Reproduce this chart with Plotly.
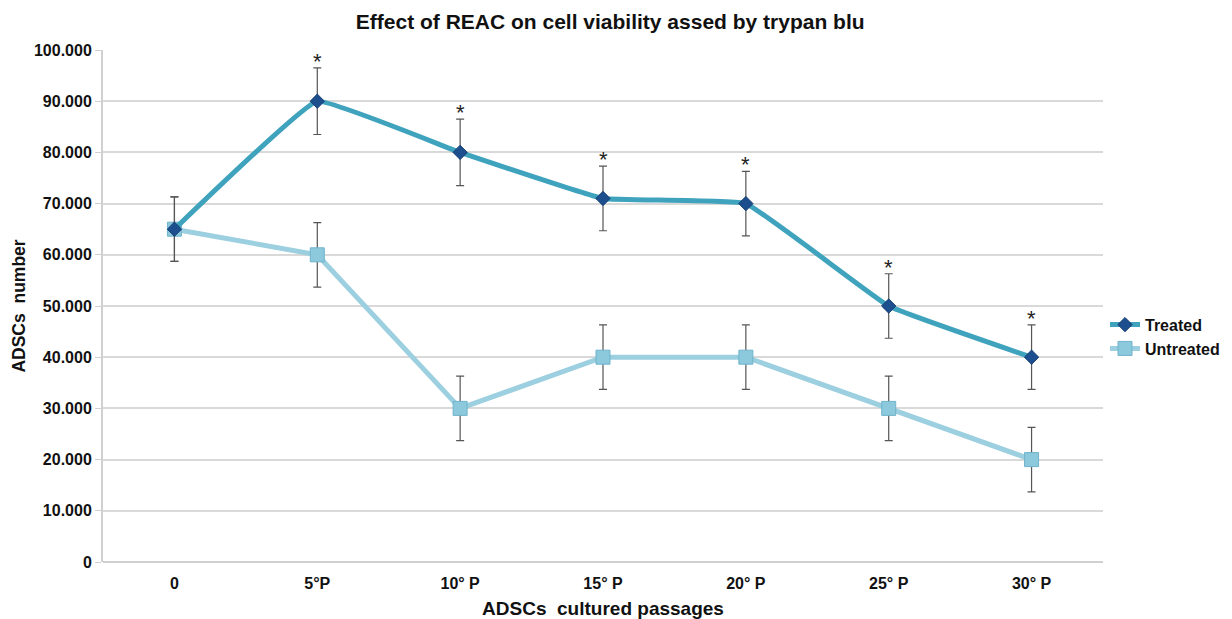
import plotly.graph_objects as go

categories = ["0", "5°P", "10° P", "15° P", "20° P", "25° P", "30° P"]
treated = [65000, 90000, 80000, 71000, 70000, 50000, 40000]
untreated = [65000, 60000, 30000, 40000, 40000, 30000, 20000]
treated_err = [6300, 6500, 6500, 6300, 6300, 6300, 6300]
untreated_err = [6300, 6300, 6300, 6300, 6300, 6300, 6300]
significant = [False, True, True, True, True, True, True]
y_ticks = [0, 10000, 20000, 30000, 40000, 50000, 60000, 70000, 80000, 90000, 100000]

W, H = 1224, 611

fig = go.Figure()

fig.add_trace(go.Scatter(
    x=categories, y=untreated, name="Untreated", mode="lines+markers",
    line=dict(color="#9CCFDF", width=5),
    marker=dict(symbol="square", size=14, color="#8CC9DC",
                line=dict(color="#6FB3CB", width=1)),
    error_y=dict(type="data", array=untreated_err, visible=True,
                 color="#555555", thickness=1.2, width=4),
))

fig.add_trace(go.Scatter(
    x=categories, y=treated, name="Treated", mode="lines+markers",
    line=dict(color="#3FA3BD", width=5, shape="spline", smoothing=0.25),
    marker=dict(symbol="diamond", size=11, color="#1D4F8F",
                line=dict(color="#163E73", width=1)),
    error_y=dict(type="data", array=treated_err, visible=True,
                 color="#555555", thickness=1.2, width=4),
))

for c, v, e, s in zip(categories, treated, treated_err, significant):
    if s:
        fig.add_annotation(x=c, y=v + e, text="*", showarrow=False,
                           yanchor="bottom", yshift=-8,
                           font=dict(size=22, color="#222222", family="Liberation Sans"))

fig.update_layout(
    width=W, height=H,
    paper_bgcolor="white", plot_bgcolor="white",
    margin=dict(l=95, r=129, t=42, b=57, autoexpand=False),
    separators=",.",
    title=dict(text="<b>Effect of REAC on cell viability assed by trypan blu</b>",
               x=0.492, xanchor="center", y=0.977, yanchor="middle",
               font=dict(size=21, color="#111111", family="Liberation Sans")),
    font=dict(family="Liberation Sans", color="#111111"),
    showlegend=True,
    legend=dict(x=1.002, y=0.44, xanchor="left", yanchor="middle",
                traceorder="reversed",
                font=dict(size=16, color="#111111", family="Liberation Sans", weight="bold"),
                itemwidth=30, tracegroupgap=0),
    xaxis=dict(
        type="category", range=[-0.5, 6.5], automargin=False,
        showgrid=False, showline=False, ticks="",
        ticklabelstandoff=10,
        tickfont=dict(size=16, family="Liberation Sans", weight="bold", color="#111111"),
        title=dict(text="<b>ADSCs&nbsp; cultured passages</b>", standoff=16,
                   font=dict(size=19, family="Liberation Sans", color="#111111")),
    ),
    yaxis=dict(
        range=[0, 100000], tickvals=y_ticks, tickformat=",.0f", automargin=False,
        showgrid=True, gridcolor="#D9D9D9", gridwidth=1.5,
        showline=True, linecolor="#D0D0D0", linewidth=2,
        ticks="outside", ticklen=6, tickcolor="#D0D0D0",
        zeroline=True, zerolinecolor="#D0D0D0", zerolinewidth=2,
        tickfont=dict(size=16, family="Liberation Sans", weight="bold", color="#111111"),
        title=dict(text="<b>ADSCs&nbsp; number</b>", standoff=4,
                   font=dict(size=17.5, family="Liberation Sans", color="#111111")),
    ),
)

fig.write_html("out.html")
